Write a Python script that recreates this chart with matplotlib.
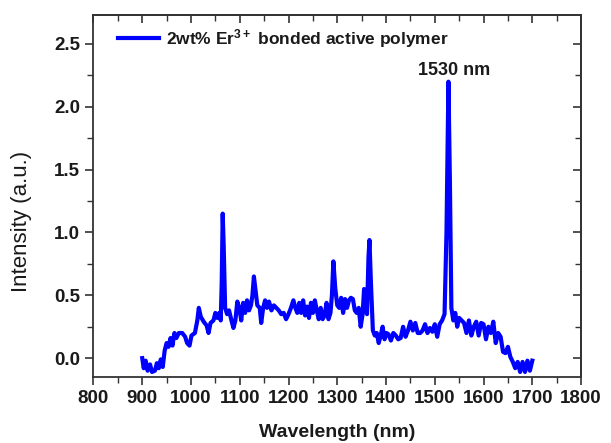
import matplotlib
matplotlib.use("Agg")
import matplotlib.pyplot as plt
from matplotlib.ticker import MultipleLocator, FormatStrFormatter

plt.rcParams['font.family'] = ['Liberation Sans', 'DejaVu Sans']
plt.rcParams['mathtext.fontset'] = 'custom'
plt.rcParams['mathtext.rm'] = 'Liberation Sans'
plt.rcParams['mathtext.bf'] = 'Liberation Sans:bold'
plt.rcParams['mathtext.default'] = 'bf'

wavelength = [900, 903, 907, 911, 916, 920, 926, 930, 934, 938, 942, 946, 950, 954, 958, 962, 966, 970, 975,
              982, 988, 992, 997, 1001, 1008, 1013, 1016, 1020, 1026, 1032, 1036, 1040, 1046, 1050, 1054, 1058,
              1061, 1063, 1065, 1067, 1070, 1074, 1078, 1083, 1087, 1091, 1095, 1099, 1103, 1107, 1111, 1115,
              1119, 1123, 1126, 1129, 1132, 1136, 1141, 1144, 1148, 1152, 1156, 1160, 1165, 1170, 1175, 1180,
              1185, 1190, 1195, 1200, 1205, 1210, 1214, 1218, 1222, 1226, 1230, 1234, 1238, 1242, 1246, 1250,
              1254, 1258, 1262, 1266, 1270, 1274, 1278, 1282, 1286, 1289, 1292, 1296, 1300, 1304, 1308, 1312,
              1316, 1320, 1324, 1328, 1332, 1336, 1340, 1344, 1348, 1352, 1355, 1358, 1361, 1364, 1366, 1369,
              1373, 1377, 1381, 1385, 1389, 1393, 1397, 1401, 1405, 1410, 1415, 1420, 1425, 1430, 1435, 1440,
              1445, 1450, 1455, 1460, 1465, 1470, 1475, 1480, 1485, 1490, 1495, 1500, 1505, 1510, 1515, 1520,
              1524, 1528, 1531, 1534, 1538, 1542, 1546, 1550, 1555, 1560, 1565, 1570, 1575, 1580, 1585, 1590,
              1595, 1600, 1605, 1610, 1615, 1620, 1625, 1630, 1635, 1640, 1645, 1650, 1655, 1660, 1665, 1670,
              1675, 1680, 1685, 1690, 1695, 1700]
intensity = [0.00, -0.08, -0.02, -0.10, -0.05, -0.11, -0.10, -0.04, -0.08, -0.01, -0.07, 0.06, 0.12, 0.09, 0.16,
             0.10, 0.20, 0.16, 0.20, 0.20, 0.17, 0.12, 0.10, 0.18, 0.20, 0.30, 0.40, 0.33, 0.29, 0.26, 0.20, 0.28,
             0.30, 0.36, 0.32, 0.36, 0.30, 0.60, 1.15, 0.90, 0.40, 0.35, 0.38, 0.30, 0.24, 0.30, 0.45, 0.40, 0.30,
             0.44, 0.36, 0.46, 0.38, 0.42, 0.50, 0.65, 0.55, 0.42, 0.40, 0.28, 0.40, 0.46, 0.40, 0.45, 0.38, 0.42,
             0.40, 0.38, 0.35, 0.36, 0.31, 0.35, 0.40, 0.46, 0.40, 0.36, 0.44, 0.36, 0.46, 0.34, 0.41, 0.32, 0.44,
             0.36, 0.46, 0.38, 0.31, 0.40, 0.31, 0.34, 0.44, 0.31, 0.36, 0.50, 0.77, 0.55, 0.42, 0.40, 0.48, 0.36,
             0.47, 0.40, 0.46, 0.48, 0.47, 0.38, 0.36, 0.40, 0.25, 0.35, 0.55, 0.48, 0.35, 0.80, 0.94, 0.60, 0.22,
             0.18, 0.20, 0.12, 0.18, 0.25, 0.15, 0.20, 0.19, 0.14, 0.20, 0.18, 0.15, 0.16, 0.25, 0.17, 0.22, 0.29,
             0.22, 0.28, 0.20, 0.20, 0.22, 0.27, 0.20, 0.24, 0.21, 0.27, 0.17, 0.27, 0.30, 0.35, 1.00, 2.20, 1.40,
             0.40, 0.30, 0.36, 0.25, 0.32, 0.30, 0.28, 0.20, 0.30, 0.18, 0.25, 0.29, 0.18, 0.28, 0.27, 0.15, 0.25,
             0.20, 0.29, 0.12, 0.20, 0.17, 0.05, 0.04, 0.09, 0.01, -0.03, -0.08, -0.03, -0.11, -0.03, -0.11, -0.02,
             -0.10, -0.02]

legend_label = r"2wt% Er$^{3+}$ bonded active polymer"
peak_label = "1530 nm"
peak_label_pos = (1539, 2.29)

fig = plt.figure(figsize=(6.11, 4.43), dpi=100)
ax = fig.add_axes([0.153, 0.149, 0.798, 0.817])
ax.plot(wavelength, intensity, color='#0000ff', lw=3.0, solid_joinstyle='round', label=legend_label)

ax.set_xlim(800, 1800)
ax.set_ylim(-0.15, 2.73)
ax.xaxis.set_major_locator(MultipleLocator(100))
ax.xaxis.set_minor_locator(MultipleLocator(50))
ax.yaxis.set_major_locator(MultipleLocator(0.5))
ax.yaxis.set_minor_locator(MultipleLocator(0.25))
ax.yaxis.set_major_formatter(FormatStrFormatter('%.1f'))

ax.tick_params(which='both', direction='out', top=False, right=False, colors='#333333', labelcolor='#1a1a1a')
ax.tick_params(which='major', length=6, width=1.2, labelsize=13.5)
ax.tick_params(which='minor', length=4, width=1.0)
for lab in ax.get_xticklabels() + ax.get_yticklabels():
    lab.set_fontweight('bold')

secx = ax.secondary_xaxis('top')
secx.xaxis.set_major_locator(MultipleLocator(100))
secx.xaxis.set_minor_locator(MultipleLocator(50))
secx.tick_params(which='both', direction='in', labeltop=False, colors='#333333')
secx.tick_params(which='major', length=6, width=1.2)
secx.tick_params(which='minor', length=4, width=1.0)
secy = ax.secondary_yaxis('right')
secy.yaxis.set_major_locator(MultipleLocator(0.5))
secy.yaxis.set_minor_locator(MultipleLocator(0.25))
secy.tick_params(which='both', direction='in', labelright=False, colors='#333333')
secy.tick_params(which='major', length=6, width=1.2)
secy.tick_params(which='minor', length=4, width=1.0)

for sp in ax.spines.values():
    sp.set_color('#333333')
    sp.set_linewidth(1.3)
for s in (secx, secy):
    for sp in s.spines.values():
        sp.set_color('#333333')
        sp.set_linewidth(1.3)

ax.set_xlabel('Wavelength (nm)', fontsize=14, fontweight='bold', color='#1a1a1a', labelpad=12)
ax.set_ylabel('Intensity (a.u.)', fontsize=16, color='#1a1a1a')
ax.yaxis.set_label_coords(-0.127, 0.43)

ax.text(peak_label_pos[0], peak_label_pos[1], peak_label, ha='center', va='center',
        fontsize=13, fontweight='bold', color='#1a1a1a')

leg = ax.legend(loc='upper left', frameon=False, fontsize=12.5, handlelength=2.4, handletextpad=0.35,
                borderaxespad=0.3, bbox_to_anchor=(0.025, 1.0))
for t in leg.get_texts():
    t.set_fontweight('bold')
    t.set_color('#1a1a1a')

fig.savefig('out.png', dpi=100)
